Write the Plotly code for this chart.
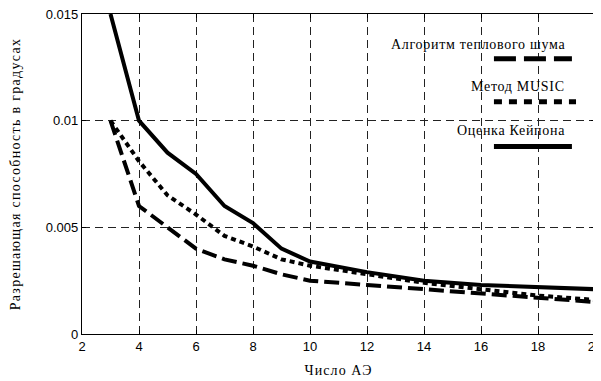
import plotly.graph_objects as go

x_vals = [3, 4, 5, 6, 7, 8, 9, 10, 12, 14, 16, 18, 20]
thermal = [0.0100, 0.0060, 0.0050, 0.0040, 0.0035, 0.0032, 0.0028, 0.0025, 0.0023, 0.0021, 0.0019, 0.0017, 0.0015]
music = [0.0100, 0.0081, 0.0065, 0.0056, 0.0046, 0.0041, 0.0035, 0.0032, 0.0028, 0.0024, 0.0021, 0.0018, 0.0016]
capon = [0.0150, 0.0100, 0.0085, 0.0075, 0.0060, 0.0052, 0.0040, 0.0034, 0.0029, 0.0025, 0.0023, 0.0022, 0.0021]

legend_names = ["Алгоритм теплового шума", "Метод MUSIC", "Оценка Кейпона"]
x_title = "Число АЭ"
y_title = "Разрешающая способность в градусах"
x_ticks = [2, 4, 6, 8, 10, 12, 14, 16, 18, 20]
y_ticks = [0, 0.005, 0.01, 0.015]
y_tick_text = ["0", "0.005", "0.01", "0.015"]

dashes = ["15px,6px", "5px,4px", "solid"]
leg_dashes = ["22px,8px", "8px,7px", "solid"]
series = [thermal, music, capon]

fig = go.Figure()
for s, d, n in zip(series, dashes, legend_names):
    fig.add_trace(go.Scatter(x=x_vals, y=s, mode="lines", name=n,
                             line=dict(color="black", width=4, dash=d),
                             showlegend=False))

serif = "Liberation Serif"
sans = "Liberation Sans"


def spaced(t, px):
    return '<span style="letter-spacing:%.1fpx">%s</span>' % (px, t)


# legend imitation (paper coords): text right-aligned above line sample
leg_text_y = [0.906, 0.773, 0.636]
leg_line_y = [0.86, 0.726, 0.586]
leg_x1 = [0.955, 0.963, 0.955]
for n, d, ty, ly, x1 in zip(legend_names, leg_dashes, leg_text_y, leg_line_y, leg_x1):
    fig.add_annotation(x=0.945, y=ty, xref="paper", yref="paper", text=spaced(n, 0.7),
                       showarrow=False, xanchor="right", yanchor="middle",
                       font=dict(family=serif, size=14, color="black"))
    fig.add_shape(type="line", xref="paper", yref="paper", x0=0.803, x1=x1,
                  y0=ly, y1=ly, line=dict(color="black", width=5, dash=d))

axis_common = dict(showline=True, linecolor="black", linewidth=1.2, mirror="ticks",
                   ticks="inside", ticklen=4, tickcolor="black",
                   showgrid=True, gridcolor="#222222", gridwidth=0.9, griddash="8px,5px",
                   zeroline=False, automargin=False, ticklabeloverflow="allow",
                   tickfont=dict(family=sans, size=13, color="black"))

fig.update_xaxes(range=[2, 20], tickvals=x_ticks, **axis_common,
                 title=dict(text=spaced(x_title, 1.1), font=dict(family=serif, size=14, color="black"), standoff=12))
fig.update_yaxes(range=[0, 0.015], tickvals=y_ticks, ticktext=y_tick_text, **axis_common,
                 title=dict(text=spaced(y_title, 1.3), font=dict(family=serif, size=14, color="black"), standoff=21))

# page body has an 8px margin, so the figure is sized/offset to compensate
fig.update_layout(width=593, height=373, margin=dict(l=74, r=6, t=6, b=47),
                  plot_bgcolor="white", paper_bgcolor="white")

fig.write_html("out.html")
